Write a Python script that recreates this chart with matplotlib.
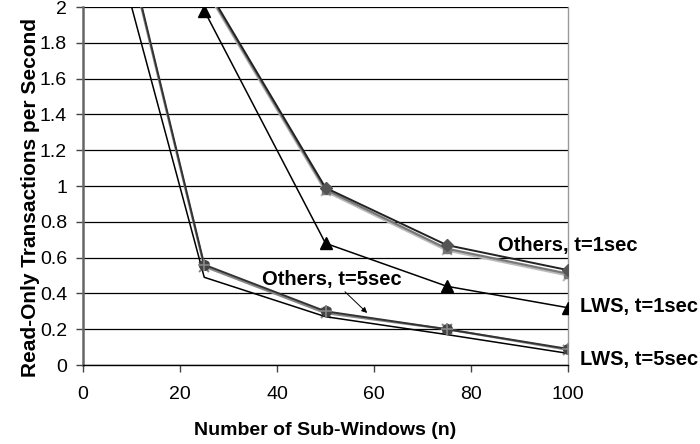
import matplotlib
matplotlib.use("Agg")
import matplotlib.pyplot as plt

plt.rcParams['font.family'] = ['Liberation Sans', 'DejaVu Sans']

# Data
x_main = [25, 50, 75, 100]
x_full = [1, 25, 50, 75, 100]

others1_a = [2.13, 0.99, 0.67, 0.53]
others1_b = [2.12, 0.98, 0.65, 0.51]
others1_c = [2.11, 0.97, 0.64, 0.50]
lws1 = [1.98, 0.68, 0.44, 0.32]

others5_a = [3.25, 0.56, 0.30, 0.20, 0.09]
others5_b = [3.23, 0.55, 0.29, 0.20, 0.085]
lws5 = [2.91, 0.49, 0.27, 0.17, 0.065]

xticks = [0, 20, 40, 60, 80, 100]
yticks = [0, 0.2, 0.4, 0.6, 0.8, 1, 1.2, 1.4, 1.6, 1.8, 2]
ytick_labels = ['0', '0.2', '0.4', '0.6', '0.8', '1', '1.2', '1.4', '1.6', '1.8', '2']

fig = plt.figure(figsize=(7, 4.44), dpi=100)
ax = fig.add_axes([83/700, 1-365/444, 485/700, 358/444])

# Others, t=1sec
ax.plot(x_main, others1_c, color='#bbbbbb', lw=1.6, marker='x', ms=7, mew=1.5, zorder=3)
ax.plot(x_main, others1_b, color='#777777', lw=1.6, marker='s', ms=6, zorder=3)
ax.plot(x_main, others1_a, color='#222222', lw=1.4, marker='D', ms=6, mfc='#555555', mec='#555555', zorder=4)
# LWS, t=1sec
ax.plot(x_main, lws1, color='black', lw=1.1, marker='^', ms=8, zorder=4)
# Others, t=5sec
ax.plot(x_full, others5_b, color='#888888', lw=1.6, marker='x', ms=7, mew=1.5, zorder=3)
ax.plot(x_full, others5_a, color='#333333', lw=1.4, marker='o', ms=7, mfc='#444444', mec='#444444', zorder=4)
ax.plot(x_full, others5_a, color='#333333', lw=0, marker='+', ms=9, mew=1.2, mec='#888888', zorder=5)
# LWS, t=5sec
ax.plot(x_full, lws5, color='black', lw=1.1, zorder=3)

ax.set_xlim(0, 100)
ax.set_ylim(0, 2)
ax.set_xticks(xticks)
ax.set_yticks(yticks)
ax.set_yticklabels(ytick_labels)
ax.tick_params(axis='both', labelsize=14, direction='out', length=5, width=1, color='#444444')
ax.tick_params(axis='x', pad=10)
ax.tick_params(axis='y', pad=6.5)

ax.yaxis.grid(True, color='black', lw=0.9)
ax.set_axisbelow(True)
ax.spines['top'].set_visible(False)
ax.spines['right'].set_color('#999999')
ax.spines['right'].set_linewidth(1)
ax.spines['left'].set_color('#666666')
ax.spines['left'].set_linewidth(1.8)
ax.spines['bottom'].set_color('black')
ax.spines['bottom'].set_linewidth(1)

ax.set_xlabel('Number of Sub-Windows (n)', fontsize=14, fontweight='bold')
ax.set_ylabel('Read-Only Transactions per Second', fontsize=15, fontweight='bold')
ax.xaxis.set_label_coords((325 - 83) / 485, (365 - 430) / 358)
ax.yaxis.set_label_coords((31 - 83) / 485, (365 - 197) / 358)
ax.yaxis.label.set_va('center')
ax.xaxis.label.set_va('center')

ann_kw = dict(fontsize=14.5, fontweight='bold', va='center', ha='left', clip_on=False)
ax.text(85.6, 0.67, 'Others, t=1sec', **ann_kw)
ax.text(102.5, 0.325, 'LWS, t=1sec', **ann_kw)
ax.text(102.5, 0.03, 'LWS, t=5sec', **ann_kw)
ax.text(37.0, 0.475, 'Others, t=5sec', **ann_kw)
ax.annotate('', xy=(59.0, 0.28), xytext=(53.6, 0.42),
            arrowprops=dict(arrowstyle='-|>', color='black', lw=0.7, mutation_scale=8))

fig.savefig('out.png', dpi=100)
